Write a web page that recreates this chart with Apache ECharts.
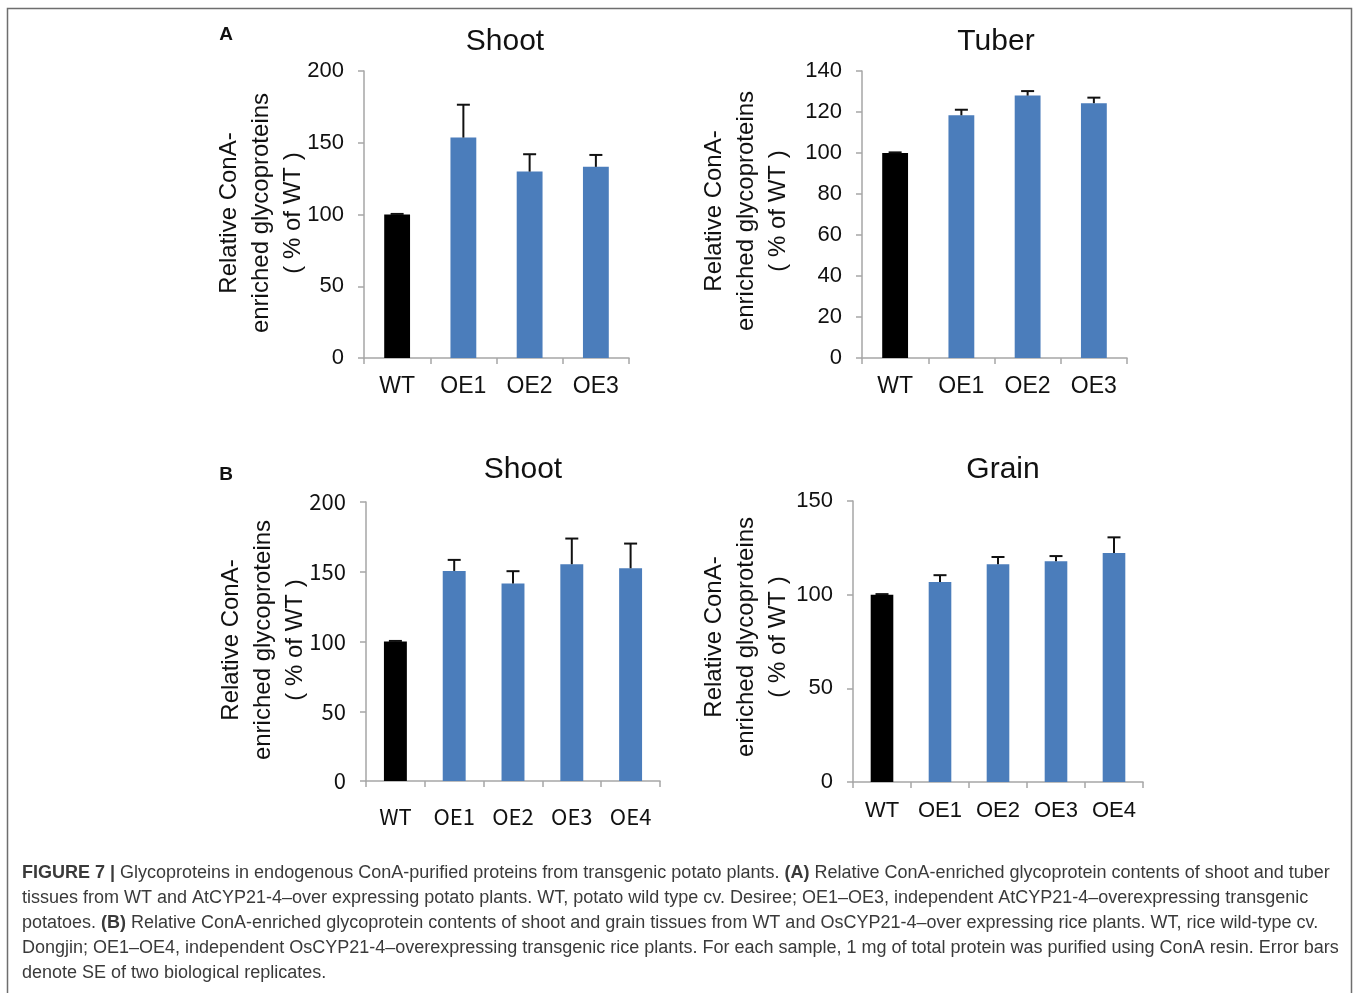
<!DOCTYPE html>
<html>
<head>
<meta charset="utf-8">
<script src="https://cdn.jsdelivr.net/npm/echarts@6/dist/echarts.min.js"></script>
<style>
html,body{margin:0;padding:0;background:#fff;}
#chart{width:1360px;height:993px;}
</style>
</head>
<body>
<div id="chart"></div>
<script>
// ---- data ----
const catsA = ['WT', 'OE1', 'OE2', 'OE3'];
const catsB = ['WT', 'OE1', 'OE2', 'OE3', 'OE4'];

const potatoShootMean = [100, 153.6, 129.9, 133.2];
const potatoShootTop  = [100.4, 176.5, 142, 141.5];

const potatoTuberMean = [100, 118.4, 128, 124.3];
const potatoTuberTop  = [100.3, 121.1, 130.2, 127];

const riceShootMean = [100, 150.6, 141.5, 155.4, 152.5];
const riceShootTop  = [100.4, 158.5, 150.4, 173.8, 170.2];

const riceGrainMean = [100, 106.7, 116.2, 117.9, 122.2];
const riceGrainTop  = [100.3, 110.4, 120.1, 120.6, 130.6];

const titles = ['Shoot', 'Tuber', 'Shoot', 'Grain'];
const yNameLines = ['Relative ConA-', 'enriched glycoproteins', '( % of WT )'];
const yRanges = [[0, 200, 50], [0, 140, 20], [0, 200, 50], [0, 150, 50]];

// ---- styles ----
const BLACK = '#000000';
const BLUE = '#4B7DBB';
const AX = '#A6A6A6';
const FONT = '"Liberation Sans", Arial, sans-serif';
const KFONT = '"Noto Sans CJK KR", "Liberation Sans", sans-serif';

const panels = [
  {cats: catsA, mean: potatoShootMean, top: potatoShootTop, grid: {left: 364, top: 71, width: 265, height: 287}, xFont: FONT, xSize: 23, yFont: FONT, xMargin: 17, title: {x: 505, y: 42}, yname: {x: 261, y: 213}},
  {cats: catsA, mean: potatoTuberMean, top: potatoTuberTop, grid: {left: 862, top: 71, width: 265, height: 287}, xFont: FONT, xSize: 23, yFont: FONT, xMargin: 17, title: {x: 996, y: 42}, yname: {x: 746, y: 211}},
  {cats: catsB, mean: riceShootMean, top: riceShootTop, grid: {left: 366, top: 502, width: 294, height: 279}, xFont: KFONT, xSize: 22, yFont: KFONT, xMargin: 25, title: {x: 523, y: 470}, yname: {x: 263, y: 640}},
  {cats: catsB, mean: riceGrainMean, top: riceGrainTop, grid: {left: 853, top: 501, width: 290, height: 281}, xFont: FONT, xSize: 22, yFont: FONT, xMargin: 18, title: {x: 1003, y: 470}, yname: {x: 746, y: 637}}
];

const grid = [], xAxis = [], yAxis = [], series = [], graphic = [];

panels.forEach((p, i) => {
  grid.push(Object.assign({containLabel: false}, p.grid));
  xAxis.push({
    type: 'category', gridIndex: i, data: p.cats,
    axisLine: {lineStyle: {color: AX, width: 1.5}},
    axisTick: {show: true, length: 6, lineStyle: {color: AX, width: 1.5}},
    axisLabel: {interval: 0, hideOverlap: false, color: '#111', fontSize: p.xSize, fontFamily: p.xFont, margin: p.xMargin}
  });
  yAxis.push({
    type: 'value', gridIndex: i, min: yRanges[i][0], max: yRanges[i][1], interval: yRanges[i][2],
    splitLine: {show: false},
    axisLine: {show: true, lineStyle: {color: AX, width: 1.5}},
    axisTick: {show: true, length: 6, lineStyle: {color: AX, width: 1.5}},
    axisLabel: {color: '#111', fontSize: 22, fontFamily: p.yFont, margin: 20}
  });
  series.push({
    type: 'bar', xAxisIndex: i, yAxisIndex: i, barWidth: '39%',
    data: p.mean.map((v, k) => ({value: v, itemStyle: {color: k === 0 ? BLACK : BLUE}})),
    silent: true
  });
  series.push({
    type: 'custom', xAxisIndex: i, yAxisIndex: i, silent: true, z: 5,
    data: p.mean.map((v, k) => [k, v, p.top[k]]),
    renderItem: function (params, api) {
      const a = api.coord([api.value(0), api.value(1)]);
      const b = api.coord([api.value(0), api.value(2)]);
      const hw = 6.5;
      const st = {stroke: '#111', lineWidth: 2};
      return {type: 'group', children: [
        {type: 'line', shape: {x1: a[0], y1: a[1], x2: b[0], y2: b[1]}, style: st},
        {type: 'line', shape: {x1: b[0] - hw, y1: b[1], x2: b[0] + hw, y2: b[1]}, style: st}
      ]};
    }
  });
  graphic.push({
    type: 'text', x: p.title.x, y: p.title.y, silent: true,
    style: {text: titles[i], font: '30px ' + FONT, fill: '#111', align: 'center', verticalAlign: 'middle'}
  });
  graphic.push({
    type: 'text', x: p.yname.x, y: p.yname.y, rotation: Math.PI / 2, silent: true,
    style: {text: yNameLines.join('\n'), font: '24px ' + FONT, fill: '#111', align: 'center', verticalAlign: 'middle', lineHeight: 32}
  });
});

graphic.push({type: 'text', x: 226, y: 35, silent: true, style: {text: 'A', font: 'bold 19px ' + FONT, fill: '#111', align: 'center', verticalAlign: 'middle'}});
graphic.push({type: 'text', x: 226, y: 475, silent: true, style: {text: 'B', font: 'bold 19px ' + FONT, fill: '#111', align: 'center', verticalAlign: 'middle'}});

// frame
graphic.push({type: 'rect', silent: true, shape: {x: 7.5, y: 8.5, width: 1344, height: 1010}, style: {fill: null, stroke: '#6E6E6E', lineWidth: 1.5}});

// caption
const captionLines = [
  '{b|FIGURE 7 |} Glycoproteins in endogenous ConA-purified proteins from transgenic potato plants. {b|(A)} Relative ConA-enriched glycoprotein contents of shoot and tuber',
  'tissues from WT and AtCYP21-4–over expressing potato plants. WT, potato wild type cv. Desiree; OE1–OE3, independent AtCYP21-4–overexpressing transgenic',
  'potatoes. {b|(B)} Relative ConA-enriched glycoprotein contents of shoot and grain tissues from WT and OsCYP21-4–over expressing rice plants. WT, rice wild-type cv.',
  'Dongjin; OE1–OE4, independent OsCYP21-4–overexpressing transgenic rice plants. For each sample, 1 mg of total protein was purified using ConA resin. Error bars',
  'denote SE of two biological replicates.'
];
captionLines.forEach((t, k) => {
  graphic.push({
    type: 'text', x: 22, y: 873 + k * 25, silent: true,
    style: {
      text: t, fontFamily: FONT, fontSize: 18, fill: '#3a3a3a', align: 'left', verticalAlign: 'middle',
      rich: {b: {fontFamily: FONT, fontSize: 18, fontWeight: 'bold', fill: '#3a3a3a'}}
    }
  });
});

const chart = echarts.init(document.getElementById('chart'), null, {renderer: 'canvas'});
chart.setOption({
  animation: false,
  backgroundColor: '#ffffff',
  grid, xAxis, yAxis, series, graphic
});
</script>
</body>
</html>
